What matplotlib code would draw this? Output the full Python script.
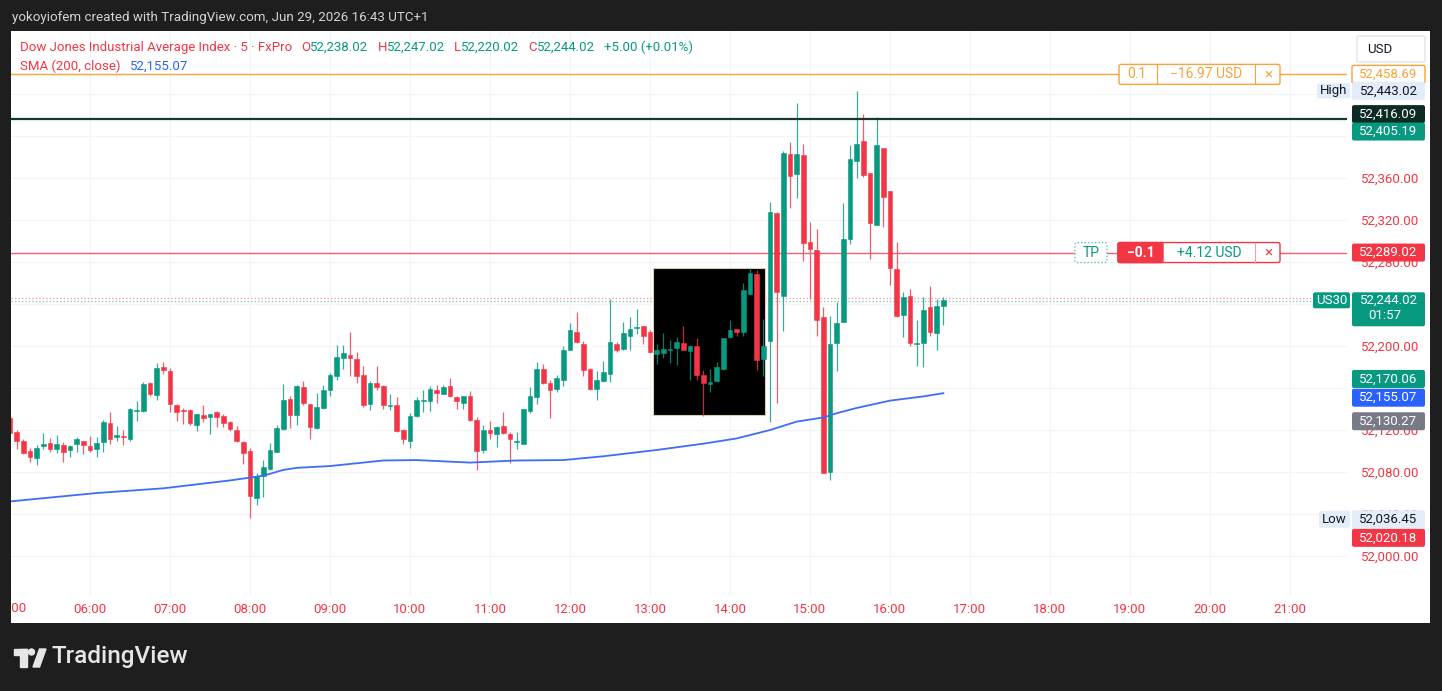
import numpy as np
import pandas as pd
import matplotlib
matplotlib.use("Agg")
import matplotlib.pyplot as plt
from matplotlib.patches import Rectangle, Circle, Polygon, FancyBboxPatch
from matplotlib.transforms import Bbox, TransformedBbox

plt.rcParams['font.family'] = ['Roboto', 'DejaVu Sans']

W, H = 1442, 691
UP = '#089981'
DN = '#f23645'

# 5 minute bars, US30 / FxPro
times = pd.date_range('2026-06-29 05:00', periods=141, freq='5min')
opens = [52131, 52118, 52110, 52100, 52093, 52105, 52108, 52102, 52106, 52101,
         52107, 52110, 52105, 52102, 52109, 52127, 52113, 52114, 52111, 52138,
         52138, 52165, 52153, 52180, 52176, 52144, 52139, 52139, 52125, 52134,
         52132, 52137, 52133, 52128, 52120, 52109, 52100, 52055, 52076, 52083,
         52099, 52121, 52150, 52134, 52161, 52145, 52122, 52141, 52158, 52171,
         52189, 52191, 52188, 52172, 52145, 52165, 52162, 52143, 52144, 52120,
         52110, 52133, 52148, 52148, 52158, 52154, 52162, 52151, 52146, 52152,
         52130, 52101, 52120, 52116, 52124, 52116, 52109, 52107, 52138, 52151,
         52178, 52165, 52159, 52168, 52196, 52213, 52202, 52178, 52159, 52167,
         52173, 52202, 52197, 52210, 52217, 52219, 52213, 52192, 52193, 52196,
         52198, 52203, 52195, 52200, 52172, 52164, 52167, 52178, 52209, 52216,
         52213, 52250, 52269, 52188, 52205, 52327, 52248, 52383, 52364, 52382,
         52299, 52291, 52228, 52080, 52203, 52223, 52302, 52376, 52395, 52365,
         52315, 52389, 52348, 52273, 52230, 52248, 52202, 52203, 52237, 52212,
         52238.02]
highs = [52133, 52120, 52111, 52103, 52106, 52117, 52112, 52115, 52109, 52106,
         52113, 52110, 52114, 52113, 52130, 52137, 52124, 52120, 52141, 52148,
         52166, 52166, 52184, 52185, 52179, 52145, 52141, 52140, 52135, 52144,
         52135, 52138, 52135, 52129, 52124, 52110, 52103, 52079, 52091, 52108,
         52125, 52164, 52152, 52163, 52167, 52145, 52155, 52163, 52174, 52201,
         52201, 52213, 52194, 52181, 52167, 52181, 52163, 52154, 52151, 52121,
         52136, 52151, 52158, 52162, 52163, 52163, 52170, 52152, 52152, 52157,
         52132, 52125, 52129, 52124, 52137, 52118, 52118, 52140, 52161, 52185,
         52183, 52168, 52172, 52200, 52222, 52232, 52205, 52179, 52176, 52186,
         52245, 52204, 52223, 52228, 52235, 52219, 52215, 52202, 52212, 52206,
         52209, 52219, 52201, 52208, 52177, 52178, 52185, 52208, 52225, 52216,
         52260, 52274, 52272, 52226, 52337, 52328, 52386, 52394, 52431, 52392,
         52318, 52311, 52237, 52229, 52242, 52336, 52391, 52443.02, 52421, 52365,
         52418, 52389, 52348, 52299, 52251, 52254, 52225, 52247, 52257, 52245,
         52247.02]
lows = [52115, 52102, 52097, 52090, 52087, 52102, 52099, 52098, 52090, 52094,
        52099, 52097, 52099, 52094, 52099, 52107, 52110, 52106, 52110, 52129,
        52137, 52152, 52149, 52173, 52137, 52129, 52126, 52125, 52119, 52128,
        52116, 52123, 52123, 52119, 52109, 52088, 52036.45, 52049, 52056, 52082,
        52099, 52120, 52122, 52125, 52144, 52111, 52121, 52140, 52152, 52168,
        52178, 52171, 52165, 52142, 52139, 52158, 52140, 52139, 52118, 52107,
        52103, 52132, 52137, 52138, 52146, 52154, 52151, 52140, 52140, 52129,
        52082, 52098, 52111, 52104, 52116, 52089, 52102, 52107, 52136, 52145,
        52164, 52131, 52156, 52162, 52196, 52203, 52171, 52158, 52149, 52166,
        52166, 52194, 52196, 52196, 52211, 52202, 52193, 52183, 52189, 52184,
        52182, 52196, 52168, 52168, 52133, 52156, 52166, 52177, 52208, 52210,
        52210, 52249, 52177, 52171, 52128, 52146, 52214, 52331, 52341, 52281,
        52245, 52210, 52079, 52072, 52176, 52223, 52297, 52360, 52361, 52283,
        52315, 52313, 52258, 52228, 52209, 52200, 52181, 52180, 52210, 52196,
        52220.02]
closes = [52117, 52110, 52098, 52094, 52103, 52107, 52102, 52107, 52099, 52105,
          52111, 52106, 52101, 52108, 52128, 52111, 52115, 52113, 52140, 52139,
          52164, 52154, 52179, 52177, 52145, 52137, 52138, 52127, 52135, 52131,
          52135, 52132, 52127, 52121, 52110, 52098, 52057, 52076, 52085, 52101,
          52122, 52149, 52134, 52162, 52146, 52123, 52142, 52158, 52172, 52190,
          52193, 52189, 52171, 52144, 52165, 52161, 52144, 52144, 52119, 52111,
          52133, 52149, 52149, 52159, 52155, 52161, 52152, 52148, 52152, 52130,
          52100, 52120, 52117, 52123, 52117, 52111, 52110, 52140, 52152, 52178,
          52165, 52158, 52170, 52196, 52215, 52204, 52177, 52159, 52168, 52175,
          52204, 52196, 52212, 52216, 52218, 52210, 52194, 52196, 52197, 52197,
          52204, 52196, 52200, 52172, 52165, 52166, 52180, 52208, 52215, 52213,
          52253, 52270, 52187, 52200, 52328, 52251, 52384, 52362, 52383, 52298,
          52292, 52225, 52079, 52202, 52222, 52302, 52378, 52392, 52363, 52317,
          52391, 52342, 52274, 52229, 52247, 52203, 52203, 52234, 52213, 52238,
          52244.02]

sma_times = ['05:00', '06:05', '06:55', '07:45', '08:10', '08:25', '08:35', '09:00',
             '09:40', '10:05', '10:45', '11:20', '11:55', '12:25', '13:05', '13:40',
             '14:05', '14:30', '14:50', '15:10', '15:20', '15:35', '16:00', '16:25', '16:40']
sma_vals = [52052, 52060, 52064.5, 52072, 52076.5, 52082, 52084, 52085.7,
            52091, 52091.4, 52089, 52091, 52091.4, 52095, 52101, 52107,
            52112, 52120, 52128, 52132, 52136, 52141, 52148, 52152, 52155.07]

hour_labels = ['06:00', '07:00', '08:00', '09:00', '10:00', '11:00', '12:00', '13:00',
               '14:00', '15:00', '16:00', '17:00', '18:00', '19:00', '20:00', '21:00']
price_ticks = [52000, 52040, 52080, 52120, 52160, 52200, 52240, 52280, 52320, 52360, 52400, 52440]
hidden_ticks = [52160, 52240, 52400, 52440]   # fully under the price tags

sl_price = 52458.69
high_price = 52443.02
dark_price = 52416.09
entry_price = 52405.19
tp_price = 52289.02
last_price = 52244.02
sma_last = 52155.07
other_tags = [52170.06, 52130.27, 52020.18]
low_price = 52036.45
# black box drawn on the chart (time range, price range)
box_t = ['13:02', '14:26']
box_p = [52134.3, 52274.3]


def idx(t):
    return (pd.Timestamp('2026-06-29 ' + t) - times[0]) / pd.Timedelta('5min')


fig = plt.figure(figsize=(W / 100, H / 100), dpi=100, facecolor='#1e1e1e')
fig.add_artist(Rectangle((11 / W, (H - 623) / H), (1430 - 11) / W, (623 - 31) / H,
                         transform=fig.transFigure, facecolor='white', edgecolor='none', zorder=-1))

ax = fig.add_axes([11 / W, (H - 595) / H, (1347 - 11) / W, (595 - 31) / H])
ax.set_xlim(0.15, 200.55)
ax.set_ylim(51962.9, 52500)
for s in ax.spines.values():
    s.set_visible(False)

x = np.arange(len(times))
o = np.array(opens); hi = np.array(highs); lo = np.array(lows); c = np.array(closes)
col = np.where(c >= o, UP, DN)

hx = [idx(h) for h in hour_labels]
for v in hx:
    ax.axvline(v, color='#f3f4f7', lw=0.8, zorder=0)
for p in price_ticks:
    ax.axhline(p, color='#f3f4f7', lw=0.8, zorder=0)

ax.axhline(last_price + 1.4, color='#f5a3aa', lw=1.0, ls=(0, (1, 1.5)), zorder=0.5)
ax.axhline(last_price - 1.4, color='#86cbbd', lw=1.0, ls=(0, (1, 1.5)), zorder=0.5)

ax.add_patch(Rectangle((idx(box_t[0]), box_p[0]), idx(box_t[1]) - idx(box_t[0]), box_p[1] - box_p[0],
                       facecolor='black', edgecolor='#d9cdb9', lw=0.8, zorder=1))

ax.vlines(x, lo, hi, colors=col, lw=0.9, alpha=0.8, zorder=2)
ax.bar(x, np.maximum(np.abs(c - o), 1.0), bottom=np.minimum(o, c), width=0.74,
       color=col, edgecolor=col, lw=0.4, zorder=3)

ax.plot([idx(t) for t in sma_times], sma_vals, color='#3d6ef5', lw=1.3, zorder=4)

ax.axhline(sl_price, color='#f8a23b', lw=1.0, zorder=2)
ax.axhline(dark_price, color='#123a2e', lw=1.6, zorder=2)
ax.axhline(tp_price, color='#f4626e', lw=1.0, zorder=2)

ax.set_xticks(hx)
ax.set_xticklabels(hour_labels)
ax.set_yticks(price_ticks)
ax.set_yticklabels(['' if p in hidden_ticks else f"{p:,.2f}" for p in price_ticks])
ax.yaxis.tick_right()
ax.tick_params(axis='x', length=0, pad=6, labelcolor=DN, labelsize=9.5)
ax.tick_params(axis='y', length=0, pad=10, labelcolor=DN, labelsize=9.5)

# overlay in figure pixels
ov = fig.add_axes([0, 0, 1, 1], zorder=5)
ov.set_xlim(0, W)
ov.set_ylim(0, H)
ov.axis('off')
ov.patch.set_alpha(0)


def py(p):
    return ax.transData.transform((0, p))[1]


def box(x0, yc, w, h, fc, ec='none', ls='-', lw=1.0):
    ov.add_patch(FancyBboxPatch((x0, yc - h / 2), w, h, boxstyle='round,pad=0,rounding_size=2',
                                facecolor=fc, edgecolor=ec, lw=lw, ls=ls, zorder=3))


def label(xc, yc, s, color, size=9.5, ha='center', weight='normal'):
    ov.text(xc, yc, s, color=color, fontsize=size, ha=ha, va='center', fontweight=weight, zorder=4)


# 05:00 label, half hidden behind the left border
t0 = ov.text(10, H - 609, '05:00', color=DN, fontsize=9.5, ha='center', va='center')
t0.set_clip_on(True)
t0.set_clip_box(TransformedBbox(Bbox([[11.5, 0], [W, H]]), ov.transData))

# price scale tags
tags = [(sl_price, 'white', '#f8a23b', '#f8a23b', 0),
        (high_price, '#e3ecf9', '#131722', 'none', 0),
        (dark_price, '#0c2b22', 'white', 'none', 5),
        (entry_price, UP, 'white', 'none', -1),
        (tp_price, DN, 'white', 'none', 0),
        (other_tags[0], UP, 'white', 'none', -1.5),
        (sma_last, '#2962ff', 'white', 'none', -4.5),
        (other_tags[1], '#787b86', 'white', 'none', -2),
        (low_price, '#e3ecf9', '#131722', 'none', -1.5),
        (other_tags[2], DN, 'white', 'none', -3)]
for p, fc, tc, ec, nd in tags:
    yc = py(p) + nd
    box(1352, yc, 73, 18, fc, ec)
    label(1388.5, yc, f"{p:,.2f}", tc)

box(1317, py(high_price), 33, 15, '#e3ecf9')
label(1333.5, py(high_price), 'High', '#131722')
box(1319, py(low_price) - 1.5, 31, 17, '#e3ecf9')
label(1334.5, py(low_price) - 1.5, 'Low', '#131722')

yl = py(last_price)
box(1352, yl - 9.5, 73, 34, UP)
label(1388.5, yl, f"{last_price:,.2f}", 'white')
label(1385, yl - 16, '01:57', 'white')
box(1313, yl - 0.5, 37, 16, UP)
label(1331.5, yl - 0.5, 'US30', 'white')

box(1357, H - 49, 68, 26, 'white', '#e0e3eb')
label(1367, H - 49, 'USD', '#131722', ha='left')

# position tool labels
ys = py(sl_price)
box(1119, ys, 161, 20, 'white', '#f8a23b')
ov.plot([1157, 1157], [ys - 10, ys + 10], color='#f8a23b', lw=0.8, zorder=4)
ov.plot([1255, 1255], [ys - 10, ys + 10], color='#f8a23b', lw=0.8, zorder=4)
label(1137, ys, '0.1', '#f8a23b', size=10)
label(1206, ys, '\u221216.97 USD', '#f8a23b', size=10)
label(1268, ys, '\u00d7', '#f8a23b', size=11)

yt = py(tp_price)
box(1075, yt, 32, 20, 'white', '#5fbfae', ls=(0, (1, 1.5)))
label(1091, yt, 'TP', UP, size=10)
box(1118, yt, 162, 20, 'white', DN)
box(1118, yt, 45, 20, DN, DN)
ov.plot([1255, 1255], [yt - 10, yt + 10], color='#f4a0a7', lw=0.8, zorder=4)
label(1140.5, yt, '\u22120.1', 'white', size=10, weight='bold')
label(1209, yt, '+4.12 USD', UP, size=10)
label(1268, yt, '\u00d7', DN, size=11)

# header texts
fig.canvas.draw()
r = fig.canvas.get_renderer()


def seq(x0, ytop, parts, size=9.5):
    for s, colr, gap in parts:
        t = ov.text(x0, H - ytop, s, color=colr, fontsize=size, ha='left', va='center', zorder=4)
        x0 += t.get_window_extent(r).width + gap


seq(20, 47, [('Dow Jones Industrial Average Index \u00b7 5 \u00b7 FxPro', DN, 9),
             ('O', DN, 0), (f"{opens[-1]:,.2f}", UP, 9),
             ('H', DN, 0), (f"{highs[-1]:,.2f}", UP, 9),
             ('L', DN, 0), (f"{lows[-1]:,.2f}", UP, 9),
             ('C', DN, 0), (f"{closes[-1]:,.2f}", UP, 9),
             ('+5.00 (+0.01%)', UP, 0)])
seq(20, 66, [('SMA (200, close)', DN, 9), (f"{sma_last:,.2f}", '#2962ff', 0)])

ov.text(12, H - 17, 'yokoyiofem created with TradingView.com, Jun 29, 2026 16:43 UTC+1',
        color='#d1d4dc', fontsize=9.6, ha='left', va='center')

# TradingView logo
lc = '#e6e6e6'
ov.add_patch(Rectangle((14, H - 655), 13, 6, color=lc))
ov.add_patch(Rectangle((20, H - 667), 7, 18, color=lc))
ov.add_patch(Circle((31.5, H - 652), 3, color=lc))
ov.add_patch(Polygon([(33, H - 667), (39.5, H - 667), (46, H - 649), (39.5, H - 649)], color=lc))
ov.text(52, H - 657, 'TradingView', color=lc, fontsize=17.5, fontweight='medium', ha='left', va='center')

fig.savefig('out.png', dpi=100, facecolor=fig.get_facecolor())
